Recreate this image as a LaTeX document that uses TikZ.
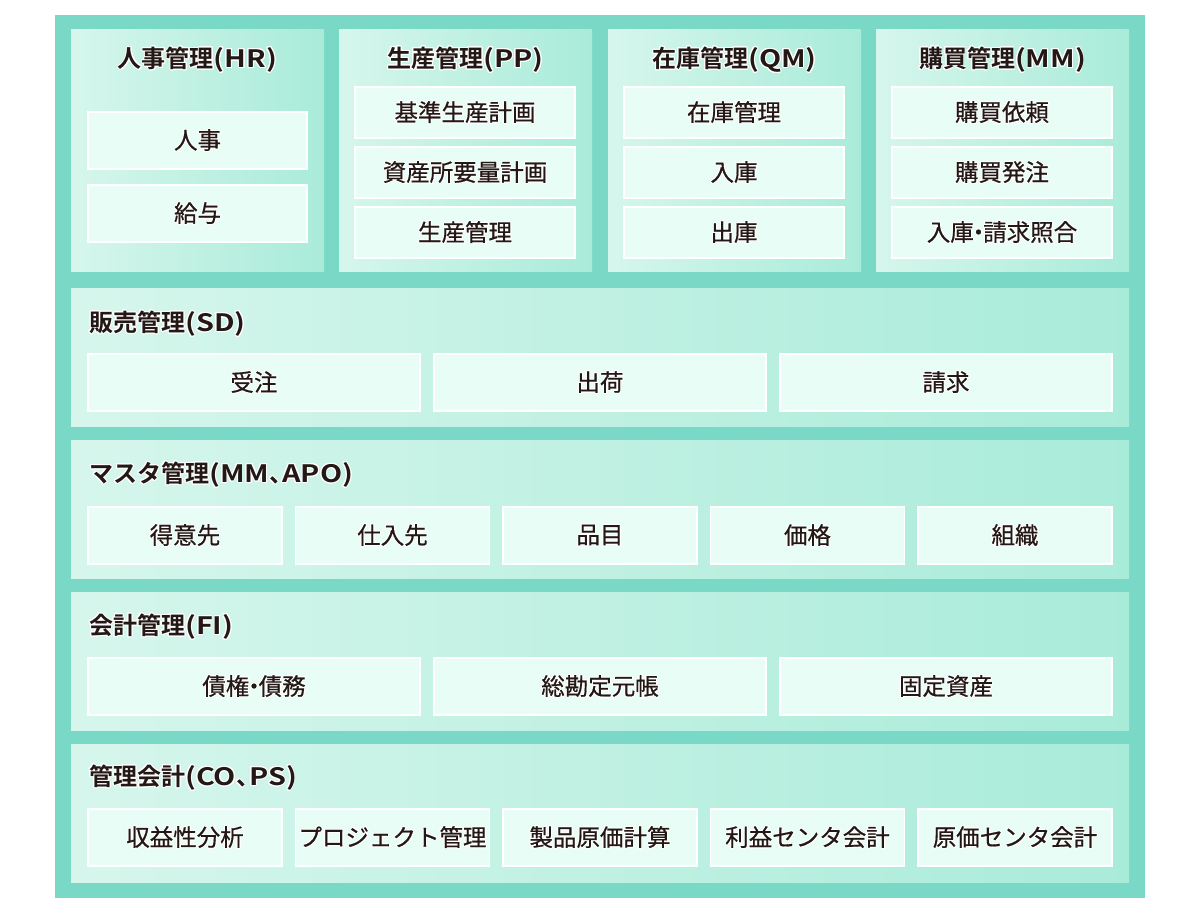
\documentclass[tikz,border=0pt]{standalone}
\usepackage{fontspec}
\usepackage{contour}
\newfontfamily\jp[FakeBold=0.6]{Noto Sans CJK JP}
\newfontfamily\jpb{Noto Sans CJK JP Bold}
\newfontfamily\lat[FakeStretch=1.2]{Noto Sans CJK JP Bold}
\contourlength{0.9pt}
\contournumber{24}
\definecolor{teal0}{HTML}{79D9C6}
\definecolor{pL}{HTML}{D6F6EC}
\definecolor{pR}{HTML}{A9EBD9}
\definecolor{itemfill}{HTML}{E8FDF5}
\definecolor{ink}{HTML}{231815}
\newcommand\halo[1]{\contour{white}{#1}}
\newcommand\nd{\kern-.3em・\kern-.3em}
\newcommand\cm{、\kern-.45em}
\tikzset{
  outerbox/.style={fill=teal0, draw=none},
  panel/.style={rectangle, anchor=north west, inner sep=0pt, outer sep=0pt, left color=pL, right color=pR, draw=none},
  item/.style={rectangle, anchor=north west, inner sep=0pt, outer sep=0pt, fill=itemfill, draw=white, line width=1.3pt, text=ink, font=\jp\fontsize{23.5}{24}\selectfont},
  ptitle/.style={inner sep=0pt, text=ink, font=\jpb\fontsize{24}{24}\selectfont},
}
\begin{document}
\begin{tikzpicture}[x=1pt,y=-1pt]
\useasboundingbox (0,0) rectangle (1200,916);
\fill[outerbox] (55,15) rectangle (1145,898);
% top panels
\node[panel, minimum width=253pt, minimum height=242pt] (hr) at (71,29) {};
\node[panel, minimum width=253pt, minimum height=242pt] (pp) at (339,29) {};
\node[panel, minimum width=253pt, minimum height=242pt] (qm) at (608,29) {};
\node[panel, minimum width=253pt, minimum height=242pt] (mm) at (876,29) {};
\node[ptitle] (hrt) at (197.5,60) {\halo{人事管理{\lat(HR)}}};
\node[ptitle] (ppt) at (465.5,60) {\halo{生産管理{\lat(PP)}}};
\node[ptitle] (qmt) at (734.5,60) {\halo{在庫管理{\lat(QM)}}};
\node[ptitle] (mmt) at (1002.5,60) {\halo{購買管理{\lat(MM)}}};
% HR items
\node[item, minimum width=219pt, minimum height=57pt] (hr1) at (88,112) {\halo{人事}};
\node[item, minimum width=219pt, minimum height=57pt] (hr2) at (88,185) {\halo{給与}};
% PP items
\node[item, minimum width=220pt, minimum height=51pt] (pp1) at (355,87) {\halo{基準生産計画}};
\node[item, minimum width=220pt, minimum height=51pt] (pp2) at (355,147) {\halo{資産所要量計画}};
\node[item, minimum width=220pt, minimum height=51pt] (pp3) at (355,207) {\halo{生産管理}};
% QM items
\node[item, minimum width=220pt, minimum height=51pt] (qm1) at (624,87) {\halo{在庫管理}};
\node[item, minimum width=220pt, minimum height=51pt] (qm2) at (624,147) {\halo{入庫}};
\node[item, minimum width=220pt, minimum height=51pt] (qm3) at (624,207) {\halo{出庫}};
% MM items
\node[item, minimum width=220pt, minimum height=51pt] (mm1) at (892,87) {\halo{購買依頼}};
\node[item, minimum width=220pt, minimum height=51pt] (mm2) at (892,147) {\halo{購買発注}};
\node[item, minimum width=220pt, minimum height=51pt] (mm3) at (892,207) {\halo{入庫\nd 請求照合}};
% wide panels
\node[panel, minimum width=1058pt, minimum height=138pt] (sd) at (71,288) {};
\node[panel, minimum width=1058pt, minimum height=138pt] (ms) at (71,440) {};
\node[panel, minimum width=1058pt, minimum height=138pt] (fi) at (71,592) {};
\node[panel, minimum width=1058pt, minimum height=138pt] (co) at (71,744) {};
\node[ptitle, anchor=west] (sdt) at (89,324) {\halo{販売管理{\lat(SD)}}};
\node[ptitle, anchor=west] (mst) at (89,475) {\halo{マスタ管理{\lat(MM}\cm{\lat APO)}}};
\node[ptitle, anchor=west] (fit) at (89,627) {\halo{会計管理{\lat(FI)}}};
\node[ptitle, anchor=west] (cot) at (89,778) {\halo{管理会計{\lat(CO}\cm{\lat PS)}}};
% SD items
\node[item, minimum width=332pt, minimum height=57pt] (sd1) at (88,354) {\halo{受注}};
\node[item, minimum width=332pt, minimum height=57pt] (sd2) at (434,354) {\halo{出荷}};
\node[item, minimum width=332pt, minimum height=57pt] (sd3) at (780,354) {\halo{請求}};
% master items
\node[item, minimum width=194pt, minimum height=57pt] (ms1) at (88,507) {\halo{得意先}};
\node[item, minimum width=194pt, minimum height=57pt] (ms2) at (295.5,507) {\halo{仕入先}};
\node[item, minimum width=194pt, minimum height=57pt] (ms3) at (503,507) {\halo{品目}};
\node[item, minimum width=194pt, minimum height=57pt] (ms4) at (710.5,507) {\halo{価格}};
\node[item, minimum width=194pt, minimum height=57pt] (ms5) at (918,507) {\halo{組織}};
% FI items
\node[item, minimum width=332pt, minimum height=57pt] (fi1) at (88,658) {\halo{債権\nd 債務}};
\node[item, minimum width=332pt, minimum height=57pt] (fi2) at (434,658) {\halo{総勘定元帳}};
\node[item, minimum width=332pt, minimum height=57pt] (fi3) at (780,658) {\halo{固定資産}};
% CO items
\node[item, minimum width=194pt, minimum height=57pt] (co1) at (88,809) {\halo{収益性分析}};
\node[item, minimum width=194pt, minimum height=57pt] (co2) at (295.5,809) {\halo{プロジェクト管理}};
\node[item, minimum width=194pt, minimum height=57pt] (co3) at (503,809) {\halo{製品原価計算}};
\node[item, minimum width=194pt, minimum height=57pt] (co4) at (710.5,809) {\halo{利益センタ会計}};
\node[item, minimum width=194pt, minimum height=57pt] (co5) at (918,809) {\halo{原価センタ会計}};
\end{tikzpicture}
\end{document}
